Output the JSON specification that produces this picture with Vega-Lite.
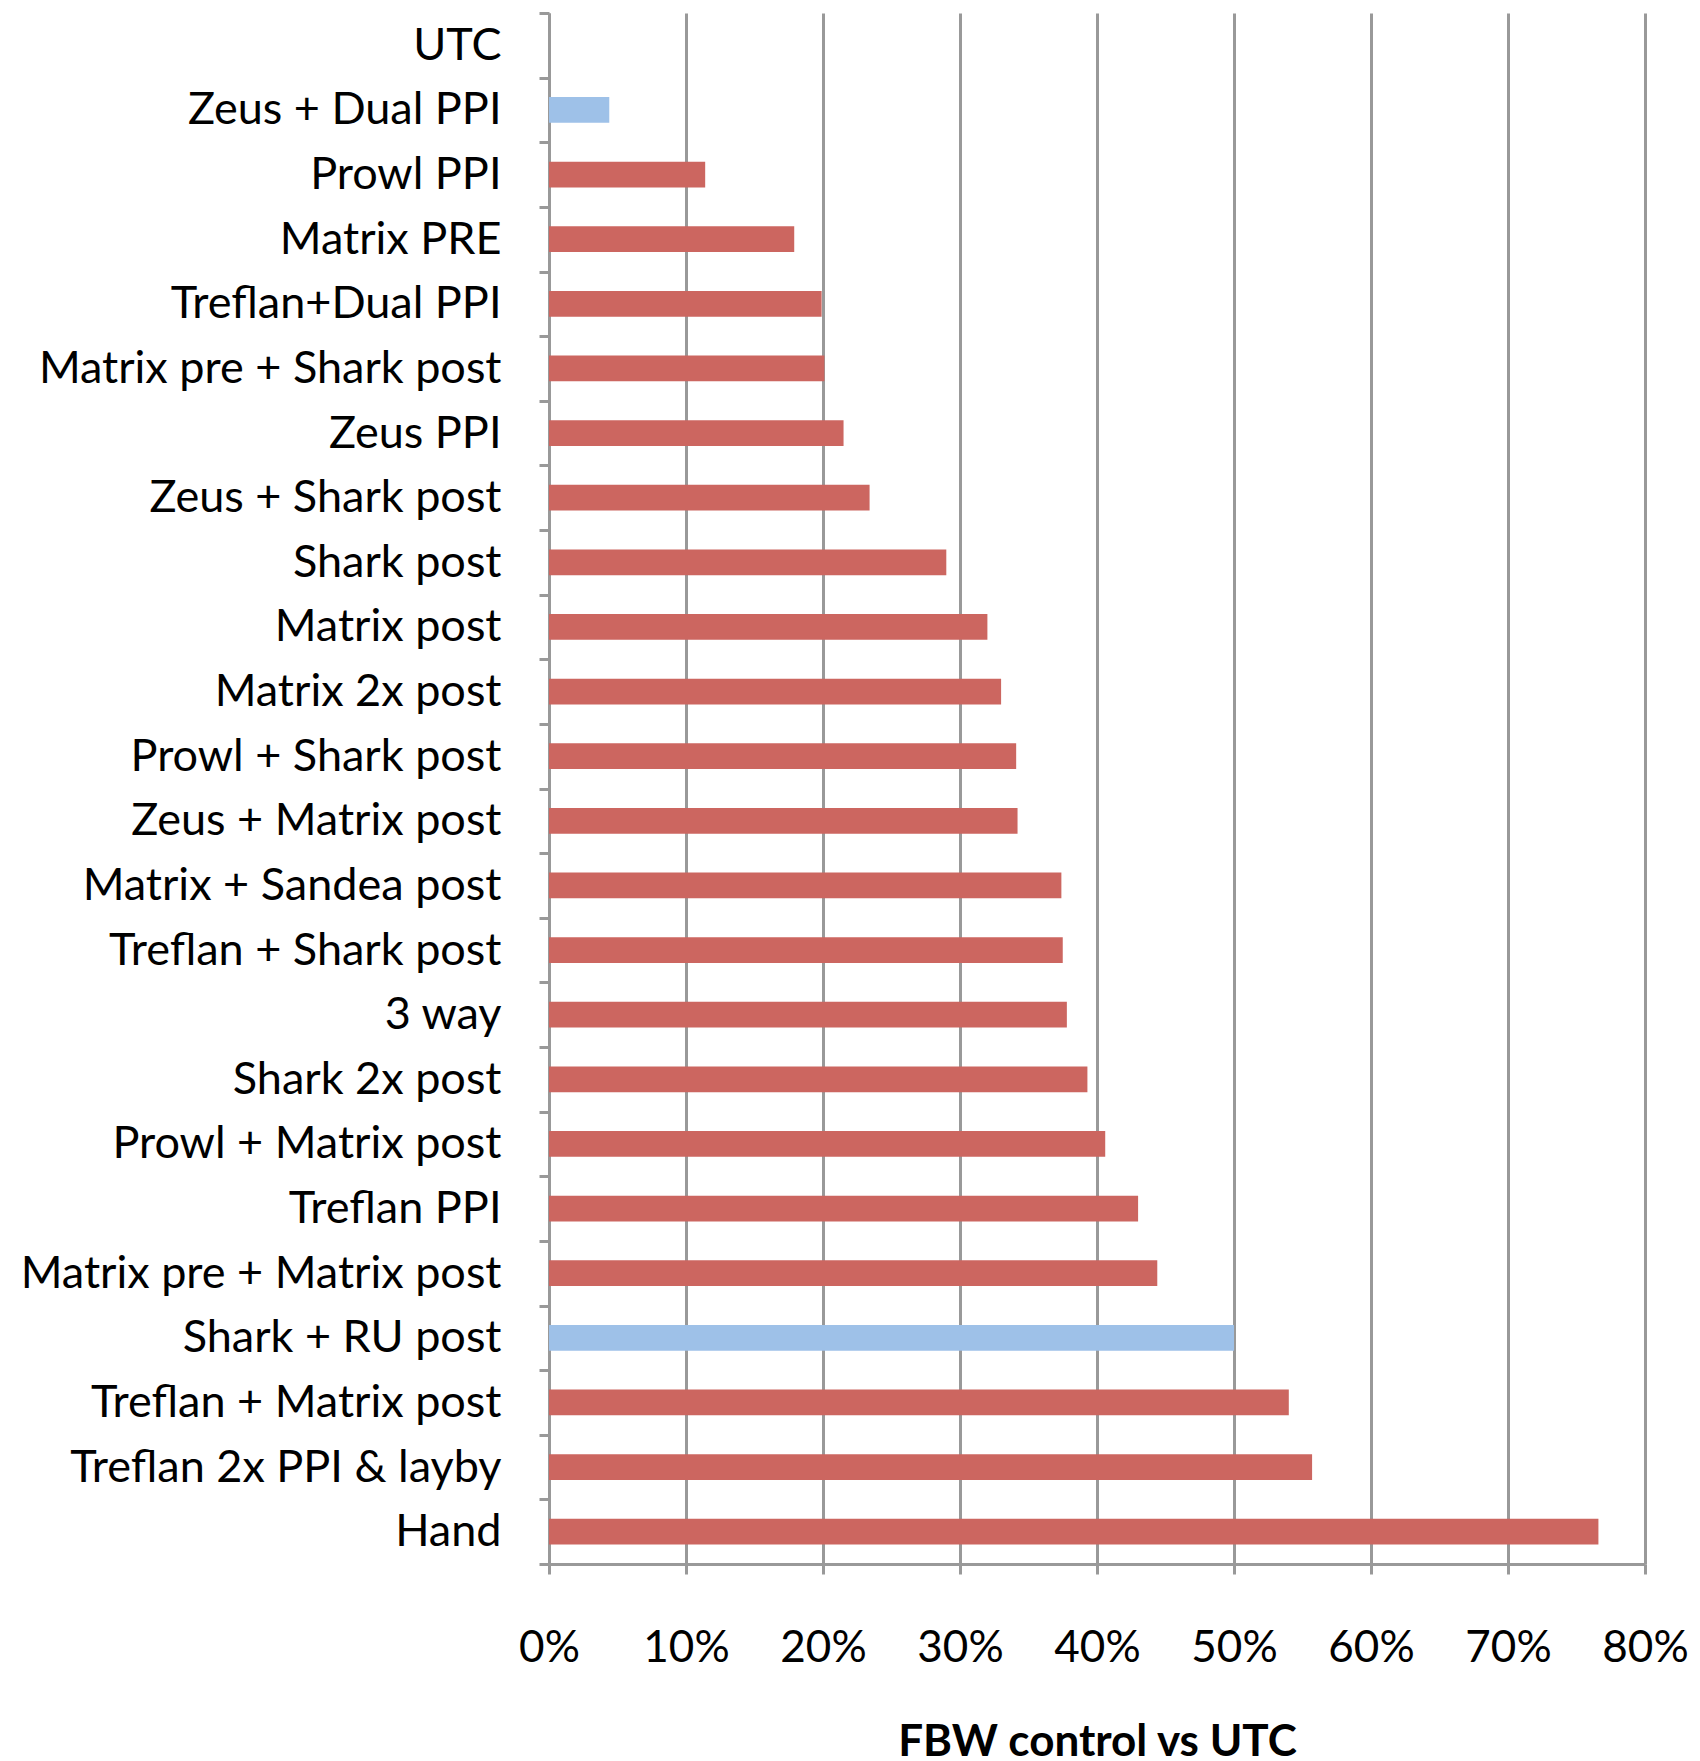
{
  "$schema": "https://vega.github.io/schema/vega-lite/v6.json",
  "width": 1096,
  "height": 1551,
  "autosize": {"type": "none"},
  "padding": {"left": 549, "top": 13, "right": 55, "bottom": 197},
  "background": "white",
  "config": {"view": {"stroke": null}, "font": "Lato"},
  "data": {
    "values": [
      {"treatment": "UTC", "value": 0.0, "group": "std"},
      {"treatment": "Zeus + Dual PPI", "value": 0.044, "group": "hl"},
      {"treatment": "Prowl PPI", "value": 0.114, "group": "std"},
      {"treatment": "Matrix PRE", "value": 0.179, "group": "std"},
      {"treatment": "Treflan+Dual PPI", "value": 0.199, "group": "std"},
      {"treatment": "Matrix pre + Shark post", "value": 0.201, "group": "std"},
      {"treatment": "Zeus PPI", "value": 0.215, "group": "std"},
      {"treatment": "Zeus + Shark post", "value": 0.234, "group": "std"},
      {"treatment": "Shark post", "value": 0.290, "group": "std"},
      {"treatment": "Matrix post", "value": 0.320, "group": "std"},
      {"treatment": "Matrix 2x post", "value": 0.330, "group": "std"},
      {"treatment": "Prowl + Shark post", "value": 0.341, "group": "std"},
      {"treatment": "Zeus + Matrix post", "value": 0.342, "group": "std"},
      {"treatment": "Matrix + Sandea post", "value": 0.374, "group": "std"},
      {"treatment": "Treflan + Shark post", "value": 0.375, "group": "std"},
      {"treatment": "3 way\u00a0", "value": 0.378, "group": "std"},
      {"treatment": "Shark 2x post", "value": 0.393, "group": "std"},
      {"treatment": "Prowl + Matrix post", "value": 0.406, "group": "std"},
      {"treatment": "Treflan PPI", "value": 0.430, "group": "std"},
      {"treatment": "Matrix pre + Matrix post", "value": 0.444, "group": "std"},
      {"treatment": "Shark + RU post", "value": 0.500, "group": "hl"},
      {"treatment": "Treflan + Matrix post", "value": 0.540, "group": "std"},
      {"treatment": "Treflan 2x PPI & layby", "value": 0.557, "group": "std"},
      {"treatment": "Hand", "value": 0.766, "group": "std"}
    ]
  },
  "mark": {"type": "bar", "height": {"band": 0.4}},
  "encoding": {
    "y": {
      "field": "treatment",
      "type": "nominal",
      "sort": null,
      "scale": {"paddingInner": 0, "paddingOuter": 0},
      "axis": {
        "title": null,
        "tickBand": "extent",
        "domain": true,
        "domainColor": "#999999",
        "domainWidth": 3,
        "ticks": true,
        "tickColor": "#999999",
        "tickWidth": 3,
        "tickSize": 10,
        "grid": false,
        "labelFont": "Lato",
        "labelFontSize": 45,
        "labelColor": "#000000",
        "labelPadding": 38,
        "labelLimit": 0
      }
    },
    "x": {
      "field": "value",
      "type": "quantitative",
      "scale": {"domain": [0, 0.8], "nice": false, "zero": true},
      "axis": {
        "title": "FBW control vs UTC",
        "titleFont": "Lato",
        "titleFontSize": 44,
        "titleFontWeight": "bold",
        "titleColor": "#000000",
        "titlePadding": 50,
        "values": [0, 0.1, 0.2, 0.3, 0.4, 0.5, 0.6, 0.7, 0.8],
        "format": ".0%",
        "grid": true,
        "gridColor": "#999999",
        "gridWidth": 3,
        "gridOpacity": 1,
        "domain": true,
        "domainColor": "#999999",
        "domainWidth": 3,
        "ticks": true,
        "tickColor": "#999999",
        "tickWidth": 3,
        "tickSize": 10,
        "labelFont": "Lato",
        "labelFontSize": 44,
        "labelColor": "#000000",
        "labelPadding": 52,
        "labelFlush": false,
        "labelOverlap": false
      }
    },
    "color": {
      "field": "group",
      "type": "nominal",
      "scale": {"domain": ["std", "hl"], "range": ["#CC6660", "#9EC1E8"]},
      "legend": null
    }
  }
}
